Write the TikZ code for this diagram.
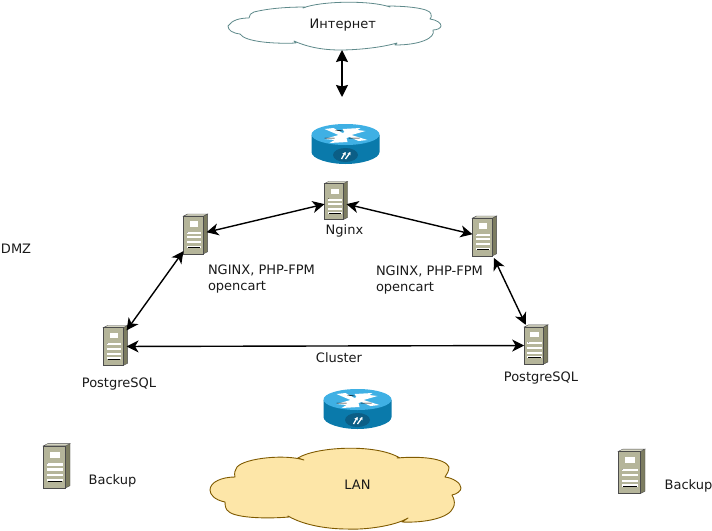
\documentclass[tikz,border=0pt]{standalone}
\usepackage{fontspec}
\setmainfont{DejaVu Sans}
\usetikzlibrary{arrows.meta}
\definecolor{srvfront}{HTML}{B5B59A}
\definecolor{srvside}{HTML}{7C7C60}
\definecolor{srvtop}{HTML}{D4D4C0}
\definecolor{rtop}{HTML}{3FB0E4}
\definecolor{rside}{HTML}{0A7AAB}
\definecolor{rdark}{HTML}{0B5E86}
\definecolor{cloudline}{HTML}{5F8A8B}
\definecolor{lanfill}{HTML}{FDE6A8}
\definecolor{lanline}{HTML}{7F5A00}
\tikzset{
  lbl/.style={font=\fontsize{13pt}{16.5pt}\selectfont,inner sep=0pt,outer sep=0pt,text=black!90},
  lleft/.style={lbl,anchor=west,align=left},
  srvbox/.style={inner sep=0pt,outer sep=0pt},
  rtrbox/.style={inner sep=0pt,outer sep=0pt,minimum width=68pt,minimum height=40pt},
  link/.style={line width=1.4pt,{Stealth[length=12pt,width=12pt,inset=3.5pt]}-{Stealth[length=12pt,width=12pt,inset=3.5pt]}},
  uplink/.style={line width=1.5pt,{Stealth[length=12pt,width=12pt,inset=1.5pt]}-{Stealth[length=12pt,width=12pt,inset=1.5pt]}},
  srv/.pic={
    \fill[srvside,draw=black!70,line width=.4pt] (8,-18) -- (12,-20) -- (12,16) -- (8,18) -- cycle;
    \fill[srvtop,draw=black!70,line width=.4pt] (-11,-18) -- (-7,-20) -- (12,-20) -- (8,-18) -- cycle;
    \fill[srvfront,draw=black!70,line width=.5pt] (-11,-18) rectangle (8,18);
    \fill[white] (-5,-13) rectangle (3,-8);
    \foreach \yy in {-2,2,7,11}{\fill[white] (-8,\yy-1) rectangle (6,\yy+1);}
    \draw[black,line width=.9pt] (-7,-3) -- (-7,-3.01);
    \draw[black,line width=.9pt] (-7,12) -- (5,12);
  },
  rtr/.pic={
    \fill[rside] (-34,-9) -- (-34,8) .. controls (-34,15) and (-16,20) .. (0,20) .. controls (16,20) and (34,15) .. (34,8) -- (34,-9) -- cycle;
    \fill[rtop] (0,-9.5) ellipse [x radius=34,y radius=10.5];
    \fill[white] (-21,-15) -- (-12,-16) -- (-3,-11) -- (-1,-12) -- (-3,-15) -- (15,-16) -- (12,-14) -- (20,-13) -- (6,-9) -- (22,-4) -- (13,-3) -- (4,-7) -- (1,-6) -- (2,-2) -- (-16,-1) -- (-11,-4) -- (-21,-5) -- (-7,-9) -- cycle;
    \fill[rdark] (0,11) ellipse [x radius=12.5,y radius=7];
    \draw[white,line width=1.3pt,-{Stealth[length=3pt,width=3.5pt]}] (-4,15) -- (0,8);
    \draw[white,line width=1.3pt,-{Stealth[length=3pt,width=3.5pt]}] (0,15) -- (5,8);
    \draw[black,line width=.5pt] (-21,-6) -- (-11,-6) (3,-6) -- (14,-6) (-10,-14) -- (-3,-13);
  },
}
\newcommand{\srvat}[4]{%
  \node[srvbox,minimum width=#4*22pt,minimum height=#4*40pt] (#1) at (#2,#3) {};
  \pic[scale=#4,transform shape] at (#2,#3) {srv};}
\newcommand{\rtrat}[3]{%
  \node[rtrbox] (#1) at (#2,#3) {};
  \pic at (#2,#3) {rtr};}
\begin{document}
\begin{tikzpicture}[x=1pt,y=-1pt]
\useasboundingbox (0,0) rectangle (712,530);
% clouds
\draw[cloudline,fill=white,line width=.8pt,line join=round]
  (228,26) .. controls (232,20) and (240,18) .. (249,18)
  .. controls (249,15) and (251,13) .. (254,12)
  .. controls (270,8) and (290,7) .. (306,7)
  -- (303,8) .. controls (320,1) and (370,0) .. (390,7)
  -- (387,6) .. controls (405,6) and (430,8) .. (431,14)
  .. controls (432,16) and (431,18) .. (430,19)
  .. controls (437,20) and (441,23) .. (441,26)
  .. controls (441,28) and (437,30) .. (433,30)
  .. controls (436,38) and (420,45) .. (395,45)
  -- (397,43) .. controls (380,48) and (355,50) .. (340,50)
  .. controls (320,50) and (305,46) .. (294,41)
  -- (296,43) .. controls (275,44) and (245,42) .. (240,34)
  .. controls (232,33) and (228,30) .. (228,26) -- cycle;
\draw[lanline,fill=lanfill,line width=.9pt,line join=round]
  (210,490) .. controls (210,482) and (222,477) .. (235,477)
  .. controls (234,473) and (235,470) .. (237,467)
  .. controls (245,458) and (285,454) .. (304,460)
  -- (298,458) .. controls (315,447) and (375,443) .. (400,458)
  -- (397,458) .. controls (420,456) and (445,458) .. (449,467)
  .. controls (449,471) and (447,474) .. (445,477)
  .. controls (453,478) and (461,483) .. (461,488)
  .. controls (461,491) and (457,494) .. (452,495)
  .. controls (455,500) and (455,505) .. (453,508)
  .. controls (449,518) and (425,523) .. (402,522)
  -- (408,518) .. controls (395,526) and (365,530) .. (347,529)
  .. controls (330,529) and (305,526) .. (288,516)
  -- (289,517) .. controls (265,519) and (232,518) .. (227,510)
  .. controls (225,507) and (225,504) .. (225,502)
  .. controls (215,500) and (210,495) .. (210,490) -- cycle;
\node[lbl] (inet) at (342.8,25.3) {Интернет};
\node[lbl] (lan) at (357.5,485) {LAN};
% devices
\rtrat{r1}{345.5}{144}
\rtrat{r2}{357.5}{409}
\srvat{nginx}{335.5}{201.5}{1}
\srvat{s1}{195}{235}{1.05}
\srvat{s2}{484}{237}{1.05}
\srvat{pg1}{115}{346.5}{1.05}
\srvat{pg2}{535.5}{345.5}{1.03}
\srvat{b1}{56}{467}{1.17}
\srvat{b2}{631}{472.5}{1.17}
% connectors
\coordinate (inetS) at (342,50);
\coordinate (inetD) at (342,97);
\draw[uplink] (inetS) -- (inetD);
\draw[link] (nginx) -- (s1);
\draw[link] (nginx) -- (s2);
\draw[link] (s1) -- (pg1);
\draw[link] (s2) -- (pg2);
\draw[link] (pg1) -- (pg2);
% labels
\node[lbl] (lnginx) at (344.5,231) {Nginx};
\node[lleft] (dmz) at (1,249) {DMZ};
\node[lleft] (l1) at (208,279) {NGINX, PHP-FPM\\opencart};
\node[lleft] (l2) at (376,280) {NGINX, PHP-FPM\\opencart};
\node[lbl] (cl) at (339,358) {Cluster};
\node[lbl] (lpg1) at (119,384) {PostgreSQL};
\node[lbl] (lpg2) at (541,378) {PostgreSQL};
\node[lbl] (lb1) at (112.5,481) {Backup};
\node[lbl] (lb2) at (688.5,486) {Backup};
\end{tikzpicture}
\end{document}
